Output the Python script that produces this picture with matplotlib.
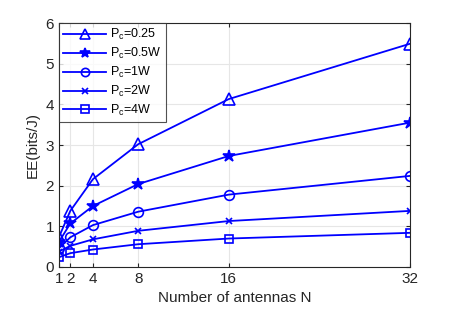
import numpy as np
import matplotlib
matplotlib.use("Agg")
import matplotlib.pyplot as plt

plt.rcParams['font.family'] = ['Liberation Sans', 'DejaVu Sans']
plt.rcParams['mathtext.default'] = 'regular'

N = [1, 2, 4, 8, 16, 32]
ee_025 = [0.74, 1.38, 2.16, 3.02, 4.13, 5.49]
ee_05 = [0.62, 1.07, 1.50, 2.04, 2.73, 3.55]
ee_1 = [0.46, 0.73, 1.03, 1.36, 1.78, 2.24]
ee_2 = [0.38, 0.52, 0.68, 0.89, 1.13, 1.38]
ee_4 = [0.24, 0.34, 0.43, 0.56, 0.70, 0.84]

labels = ['P$_c$=0.25', 'P$_c$=0.5W', 'P$_c$=1W', 'P$_c$=2W', 'P$_c$=4W']
markers = ['^', '*', 'o', 'x', 's']
sizes = [8, 9, 7, 5, 6]
series = [ee_025, ee_05, ee_1, ee_2, ee_4]

fig = plt.figure(figsize=(4.52, 3.11), dpi=100)
ax = fig.add_axes([0.1305, 0.1415, 0.7765, 0.7845])

for y, lab, m, s in zip(series, labels, markers, sizes):
    ax.plot(N, y, color='#0000ff', lw=1.3, marker=m, ms=s, mfc='none' if m not in ('*', 'x') else '#0000ff',
            mew=1.2, label=lab)

ax.set_xlim(1, 32)
ax.set_ylim(0, 6)
ax.set_xticks(N)
ax.set_yticks([0, 1, 2, 3, 4, 5, 6])
ax.grid(True, color='#e6e6e6', lw=0.8)
ax.set_axisbelow(True)
for sp in ax.spines.values():
    sp.set_color('#262626')
    sp.set_linewidth(0.8)
ax.tick_params(direction='in', top=True, right=True, labelsize=11, colors='#262626', length=3)
ax.set_xlabel('Number of antennas N', fontsize=11, color='#262626')
ax.set_ylabel('EE(bits/J)', fontsize=11, color='#262626')

leg = ax.legend(loc='upper left', fontsize=9, frameon=True, fancybox=False, borderaxespad=0,
                handlelength=3.4, labelspacing=0.3, borderpad=0.35, handletextpad=0.3,
                markerscale=0.85)
leg.get_frame().set_edgecolor('#262626')
leg.get_frame().set_linewidth(0.8)

fig.savefig('out.png', dpi=100)
